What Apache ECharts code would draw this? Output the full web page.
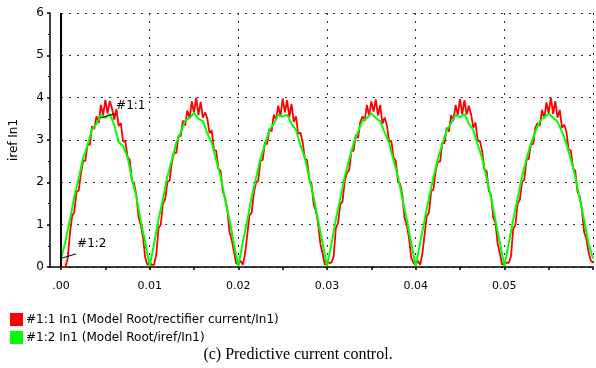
<!DOCTYPE html>
<html>
<head>
<meta charset="utf-8">
<script src="https://cdn.jsdelivr.net/npm/echarts@6/dist/echarts.min.js"></script>
<style>
html,body{margin:0;padding:0;background:#fff;}
#chart{width:596px;height:368px;}
</style>
</head>
<body>
<div id="chart"></div>
<script>
// ---- data ----
const xTickLabels = ['.00', '0.01', '0.02', '0.03', '0.04', '0.05'];
const yTickLabels = ['0', '1', '2', '3', '4', '5', '6'];
const seriesNames = ['#1:1 In1 (Model Root/rectifier current/In1)', '#1:2 In1 (Model Root/iref/In1)'];
const yAxisTitle = 'iref In1';
const caption = '(c) Predictive current control.';

// rectifier current, sampled every 0.25 ms from t = 0 to 0.06 s
const redStep = 0.00025;
const rectifierCurrent = [
  0,0,0,0.2,0.77,1.20,1.30,1.77,1.81,2.22,2.51,2.51,2.91,2.88,3.32,3.26,3.56,3.40,3.83,3.59,3.95,3.63,3.92,3.75,3.48,3.73,3.33,3.40,2.96,2.98,2.60,2.53,2.05,1.96,1.69,1.17,0.99,0.70,0.22,0.05,
  0.10,0.05,0.05,0.30,0.92,1.00,1.50,1.60,2.01,2.04,2.47,2.71,2.69,3.10,3.09,3.46,3.34,3.70,3.51,3.91,3.65,4.00,3.59,3.90,3.53,3.65,3.51,3.16,3.23,2.76,2.75,2.33,2.27,1.78,1.64,1.37,0.83,0.65,0.37,0.10,
  0.05,0.15,0.05,0.30,0.74,1.22,1.28,1.75,1.99,2.04,2.51,2.53,2.95,2.90,3.27,3.20,3.60,3.47,3.81,3.55,3.98,3.65,3.94,3.54,3.85,3.43,3.56,3.14,3.18,2.96,2.55,2.53,2.07,1.98,1.47,1.33,1.03,0.55,0.32,0.05,
  0.10,0.10,0.10,0.25,0.92,1.04,1.48,1.55,2.03,2.22,2.29,2.73,2.75,3.12,3.05,3.42,3.56,3.45,3.83,3.57,3.91,3.67,3.96,3.58,3.83,3.38,3.53,3.36,2.96,2.98,2.59,2.51,2.03,1.96,1.69,1.15,0.99,0.68,0.22,0.10,
  0.05,0.15,0.05,0.30,0.76,1.20,1.28,1.79,1.83,2.26,2.49,2.49,2.93,2.92,3.29,3.20,3.59,3.45,3.83,3.59,3.97,3.61,3.94,3.60,3.81,3.61,3.29,3.41,2.98,2.98,2.73,2.31,2.27,1.80,1.69,1.17,1.03,0.55,0.32,0.05,
  0.10,0.10,0.10,0.25,0.90,1.00,1.50,1.59,2.01,2.06,2.53,2.55,2.91,2.90,3.29,3.40,3.34,3.71,3.51,3.89,3.63,4.00,3.62,3.92,3.53,3.71,3.29,3.36,3.20,2.78,2.75,2.33,2.27,1.78,1.67,1.35,0.83,0.66,0.35,0.15,
  0.10
];

// reference current iref, sampled every 0.5 ms from t = 0 to 0.06 s
const greenStep = 0.0005;
const irefCurrent = [
  0.20,0.60,1.10,1.66,2.10,2.58,2.88,3.25,3.38,3.60,3.52,3.62,3.36,2.95,2.86,2.60,2.08,1.66,1.08,0.58,
  0.02,0.55,1.13,1.61,2.14,2.53,2.93,3.18,3.46,3.52,3.64,3.50,3.45,3.16,2.94,2.52,2.15,1.60,1.12,0.55,
  0.02,0.58,1.09,1.65,2.10,2.57,2.89,3.24,3.38,3.60,3.55,3.60,3.38,3.24,2.88,2.58,2.10,1.65,1.10,0.57,
  0.02,0.55,1.12,1.62,2.13,2.54,2.92,3.19,3.45,3.52,3.63,3.52,3.44,3.18,2.93,2.53,2.14,1.61,1.12,0.56,
  0.02,0.57,1.10,1.64,2.11,2.56,2.90,3.23,3.40,3.59,3.54,3.61,3.39,3.23,2.89,2.57,2.11,1.64,1.10,0.57,
  0.02,0.56,1.12,1.62,2.13,2.55,2.92,3.20,3.44,3.54,3.62,3.53,3.43,3.20,2.92,2.54,2.13,1.62,1.11,0.55,
  0.20
];

// cursor markers: [from, to, label]
const cursorTime = 0;
const cursorMarkRed = [[0.0044, 3.52], [0.0061, 3.62], '#1:1'];
const cursorMarkGreen = [[0.0001, 0.21], [0.0017, 0.31], '#1:2'];

// ---- build ----
const toPairs = (vals, step) => vals.map((v, i) => [+(i * step).toFixed(5), v]);
const uiFont = 'DejaVu Sans';

const chart = echarts.init(document.getElementById('chart'), null, {renderer: 'canvas'});
const dotted = {color: '#333', width: 1, type: [2, 6]};

function markText(m, lift) {
  return {
    silent: true, animation: false, symbol: 'circle', symbolSize: 0,
    label: {show: true, position: 'right', distance: 1, offset: [0, -lift], formatter: m[2],
            color: '#000', fontFamily: uiFont, fontSize: 12},
    data: [{coord: m[1]}]
  };
}

chart.setOption({
  animation: false,
  backgroundColor: '#fff',
  title: {
    text: caption, left: 'center', top: 342,
    textStyle: {fontFamily: 'Liberation Serif', fontSize: 16, fontWeight: 'normal', color: '#000'}
  },
  legend: {
    orient: 'vertical', left: 5, top: 308, itemWidth: 13, itemHeight: 13, itemGap: 5,
    icon: 'rect', selectedMode: false,
    textStyle: {fontFamily: uiFont, fontSize: 12, color: '#000', padding: [0, 0, 0, -2]},
    data: seriesNames
  },
  grid: [
    {left: 61, right: 1, top: 13, bottom: 101},
    {left: 50, width: 11, top: 13, bottom: 101}
  ],
  xAxis: [
    {
      gridIndex: 0, type: 'value', min: 0, max: 0.06, interval: 0.01,
      axisLine: {show: true, onZero: false, lineStyle: {color: '#000', width: 1.5}},
      axisTick: {show: true, length: 3, lineStyle: {color: '#000', width: 1.5}},
      minorTick: {show: true, splitNumber: 2, length: 3, lineStyle: {color: '#000', width: 1.5}},
      axisLabel: {
        margin: 14, color: '#000', fontFamily: uiFont, fontSize: 11,
        formatter: v => { const i = Math.round(v / 0.01); return (Math.abs(v - i * 0.01) < 1e-9 && i < xTickLabels.length) ? xTickLabels[i] : ''; }
      },
      splitLine: {show: true, lineStyle: dotted}
    },
    {
      gridIndex: 1, type: 'value', min: 0, max: 1,
      axisLine: {show: true, onZero: false, lineStyle: {color: '#000', width: 1.5}},
      axisTick: {show: false}, axisLabel: {show: false}, splitLine: {show: false}
    }
  ],
  yAxis: [
    {
      gridIndex: 0, type: 'value', min: 0, max: 6, interval: 1,
      axisLine: {show: false}, axisTick: {show: false}, axisLabel: {show: false},
      splitLine: {show: true, lineStyle: dotted}
    },
    {
      gridIndex: 1, type: 'value', min: 0, max: 6, interval: 1, position: 'left',
      name: yAxisTitle, nameLocation: 'middle', nameGap: 30,
      nameTextStyle: {fontFamily: uiFont, fontSize: 12, color: '#000'},
      axisLine: {show: true, lineStyle: {color: '#000', width: 1.5}},
      axisTick: {show: true, length: 3, lineStyle: {color: '#000', width: 1.5}},
      minorTick: {show: true, splitNumber: 2, length: 2, lineStyle: {color: '#000', width: 1}},
      axisLabel: {margin: 6, color: '#000', fontFamily: uiFont, fontSize: 12,
                  formatter: v => yTickLabels[Math.round(v)]},
      splitLine: {show: false}
    }
  ],
  series: [
    {
      name: seriesNames[0], type: 'line', xAxisIndex: 0, yAxisIndex: 0,
      data: toPairs(rectifierCurrent, redStep),
      showSymbol: false, symbol: 'none',
      lineStyle: {color: '#ff0000', width: 1.8},
      itemStyle: {color: '#ff0000'},
      markLine: {
        silent: true, symbol: 'none', animation: false,
        lineStyle: {color: '#000', width: 1, type: 'solid'},
        label: {show: false},
        data: [[{coord: cursorMarkRed[0]}, {coord: cursorMarkRed[1]}]]
      },
      markPoint: markText(cursorMarkRed, 8),
      z: 2
    },
    {
      name: seriesNames[1], type: 'line', xAxisIndex: 0, yAxisIndex: 0,
      data: toPairs(irefCurrent, greenStep),
      showSymbol: false, symbol: 'none',
      lineStyle: {color: '#00ff00', width: 2},
      itemStyle: {color: '#00ff00'},
      markLine: {
        silent: true, symbol: 'none', animation: false,
        lineStyle: {color: '#000', width: 1, type: 'solid'},
        label: {show: false},
        data: [
          [{coord: cursorMarkGreen[0]}, {coord: cursorMarkGreen[1]}],
          [{coord: [cursorTime, 0], lineStyle: {width: 2}}, {coord: [cursorTime, 6]}]
        ]
      },
      markPoint: markText(cursorMarkGreen, 10),
      z: 3
    }
  ]
});
</script>
</body>
</html>
